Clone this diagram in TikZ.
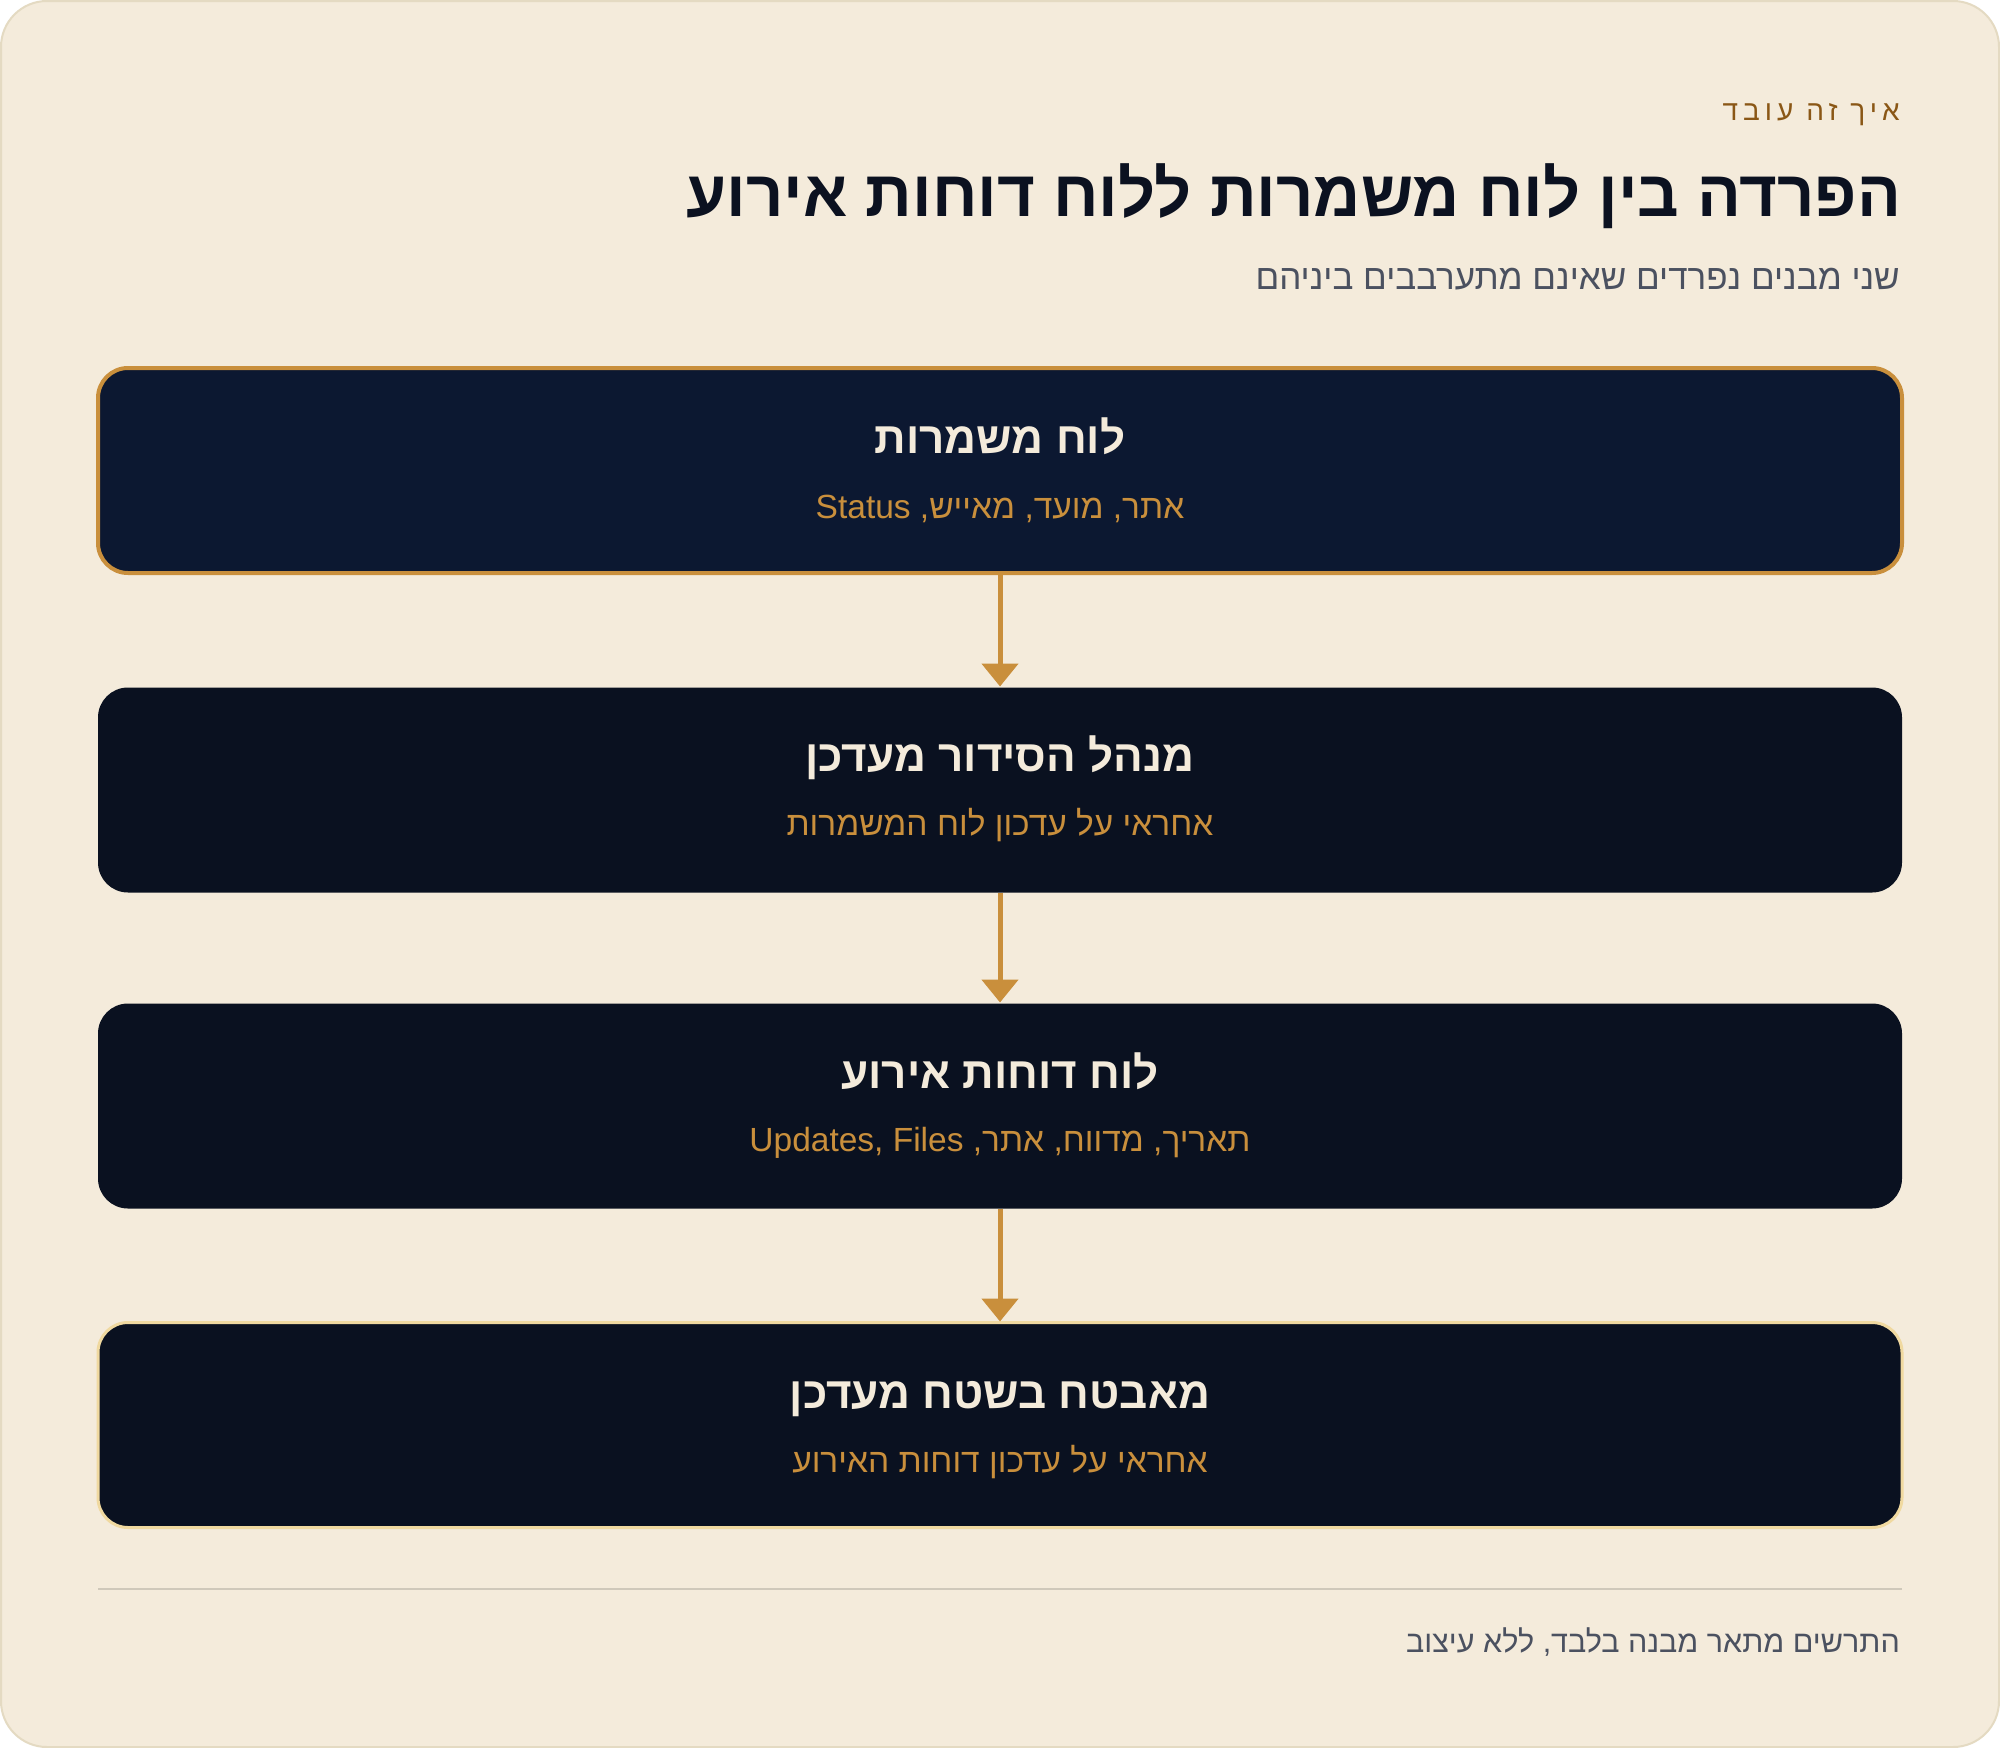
\documentclass[tikz,border=0pt]{standalone}
\usepackage{fontspec}
\setmainfont{Liberation Sans}[Script=Hebrew]
\newfontfamily\kickfont{Liberation Sans}[Script=Hebrew,LetterSpace=18]
\TeXXeTstate=1
\usetikzlibrary{arrows.meta}
\definecolor{cream}{HTML}{F4EBDB}
\definecolor{frameline}{HTML}{E4DAC2}
\definecolor{navy}{HTML}{0C1831}
\definecolor{darkbox}{HTML}{0A1120}
\definecolor{gold}{HTML}{C98F3C}
\definecolor{lightgold}{HTML}{F0D9A0}
\definecolor{inkdark}{HTML}{0B1120}
\definecolor{kickbrown}{HTML}{8A5716}
\definecolor{graytext}{HTML}{4B5160}
\definecolor{sepline}{HTML}{CFC8BA}
\tikzset{
  stagebox/.style={rounded corners=30pt, minimum width=1804pt, minimum height=205pt, inner sep=0pt, outer sep=0pt, fill=darkbox},
  boxtitle/.style={anchor=base, text=cream, font=\fontsize{44}{52}\selectfont\bfseries, inner sep=0pt},
  boxsub/.style={anchor=base, text=gold, font=\fontsize{33.5}{40}\selectfont, inner sep=0pt},
  flowarrow/.style={draw=gold, line width=5pt, -{Triangle[width=36pt,length=23pt]}, shorten >=1pt},
}
\begin{document}
\begin{tikzpicture}[x=1pt,y=-1pt]
\useasboundingbox (0,0) rectangle (2000,1748);
\fill[white] (0,0) rectangle (2000,1748);
\draw[fill=cream, draw=frameline, line width=2pt, rounded corners=46pt] (1,1) rectangle (1999,1747);

\node[anchor=base east, inner sep=0pt, text=kickbrown, font=\fontsize{28}{34}\selectfont\kickfont] (kicker) at (1900,120) {\beginR איך זה עובד\endR};
\node[anchor=base east, inner sep=0pt, text=inkdark, font=\fontsize{65}{78}\selectfont\bfseries] (title) at (1901,216) {\beginR הפרדה בין לוח משמרות ללוח דוחות אירוע\endR};
\node[anchor=base east, inner sep=0pt, text=graytext, font=\fontsize{35}{42}\selectfont] (subtitle) at (1900,289) {\beginR שני מבנים נפרדים שאינם מתערבבים ביניהם\endR};

\node[stagebox, fill=navy, draw=gold, line width=4pt] (b1) at (1000,470.5) {};
\node[stagebox] (b2) at (1000,790) {};
\node[stagebox] (b3) at (1000,1106) {};
\node[stagebox, draw=lightgold, line width=3pt] (b4) at (1000,1425) {};

\node[boxtitle] (t1) at (1000,453) {\beginR לוח משמרות\endR};
\node[boxsub] (s1) at (1000,518) {\beginR אתר, מועד, מאייש, \beginL Status\endL\endR};
\node[boxtitle] (t2) at (1000,771) {\beginR מנהל הסידור מעדכן\endR};
\node[boxsub] (s2) at (1000,835) {\beginR אחראי על עדכון לוח המשמרות\endR};
\node[boxtitle] (t3) at (1000,1088) {\beginR לוח דוחות אירוע\endR};
\node[boxsub] (s3) at (1000,1151) {\beginR תאריך, מדווח, אתר, \beginL Updates, Files\endL\endR};
\node[boxtitle] (t4) at (1000,1408) {\beginR מאבטח בשטח מעדכן\endR};
\node[boxsub] (s4) at (1000,1472) {\beginR אחראי על עדכון דוחות האירוע\endR};

\draw[flowarrow] (b1.south) -- (b2.north);
\draw[flowarrow] (b2.south) -- (b3.north);
\draw[flowarrow] (b3.south) -- (b4.north);

\coordinate (sepL) at (98,1589);
\coordinate (sepR) at (1902,1589);
\draw[sepline, line width=2pt] (sepL) -- (sepR);

\node[anchor=base east, inner sep=0pt, text=graytext, font=\fontsize{30.5}{36}\selectfont] (footer) at (1900,1652) {\beginR התרשים מתאר מבנה בלבד, ללא עיצוב\endR};
\end{tikzpicture}
\end{document}
